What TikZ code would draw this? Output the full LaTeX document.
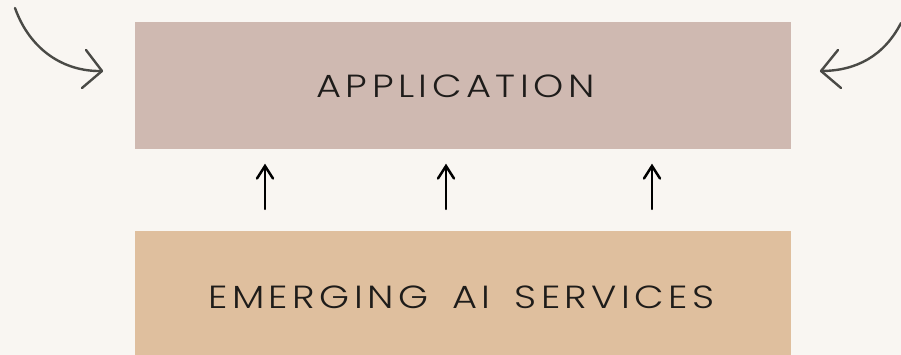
\documentclass[tikz,border=0pt]{standalone}
\usepackage{fontspec}
\setmainfont{Poppins Light}[FakeStretch=1.2,LetterSpace=14,WordSpace=1.6]
\definecolor{bgc}{HTML}{F9F6F2}
\definecolor{toprect}{HTML}{CFB9B1}
\definecolor{botrect}{HTML}{DFBF9E}
\definecolor{ink}{HTML}{1E1C1A}
\definecolor{curve}{HTML}{4A4A46}
\tikzset{
  box/.style={fill=#1,draw=none,minimum width=656pt,inner sep=0pt},
  label/.style={text=ink,inner sep=0pt,font=\fontsize{32}{34}\selectfont},
  uparrow/.style={draw=black,line width=2.5pt,line cap=round,line join=miter},
  curvearrow/.style={draw=curve,line width=2.4pt,line cap=round,line join=round}
}
\begin{document}
\begin{tikzpicture}[x=1pt,y=-1pt]
\useasboundingbox (0,0) rectangle (901,355);
\fill[bgc] (0,0) rectangle (901,355);
\node[box=toprect,minimum height=127pt] (app) at (463,85.5) {};
\node[box=botrect,minimum height=124pt] (ai) at (463,293.5) {};
\node[label] (applabel) at (455.5,86.5) {APPLICATION};
\node[label] (ailabel) at (461.5,297.5) {EMERGING AI SERVICES};
\foreach \n/\x in {a/265,b/446,c/652}{
  \coordinate (\n s) at (\x,209);
  \coordinate (\n t) at (\x,166);
  \draw[uparrow] (\n s) -- (\n t);
  \draw[uparrow] (\x-8,178.5) -- (\n t) -- (\x+8,178.5);
}
\coordinate (ls) at (15,8);
\coordinate (lt) at (102,71);
\draw[curvearrow] (ls) .. controls (30,50) and (64,72) .. (lt);
\draw[curvearrow] (86,50) -- (lt) -- (82,88);
\coordinate (rs) at (901,23);
\coordinate (rt) at (821,71);
\draw[curvearrow] (rs) .. controls (884,56) and (856,71) .. (rt);
\draw[curvearrow] (838,50) -- (rt) -- (841,88);
\end{tikzpicture}
\end{document}
